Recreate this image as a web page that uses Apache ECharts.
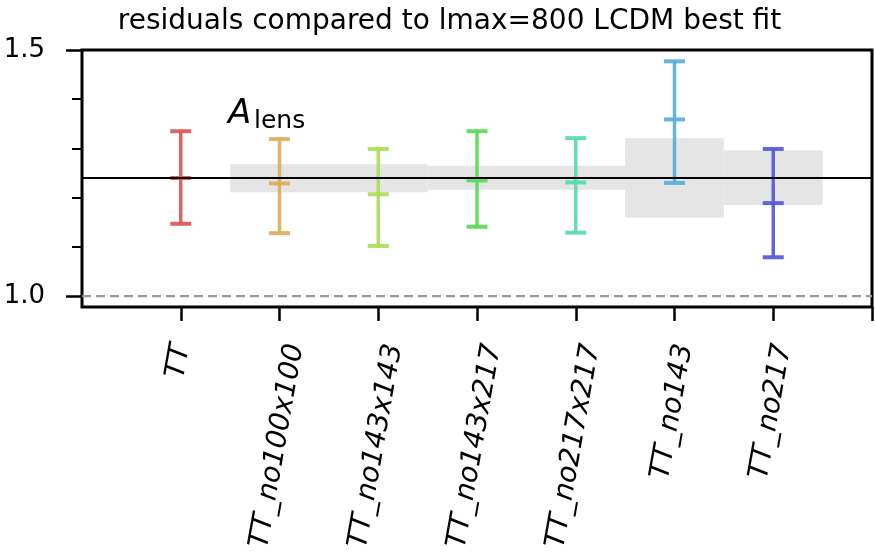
<!DOCTYPE html>
<html>
<head>
<meta charset="utf-8">
<script src="https://cdn.jsdelivr.net/npm/echarts@6/dist/echarts.min.js"></script>
<style>
  html, body { margin: 0; padding: 0; background: #fff; }
  #chart { width: 875px; height: 556px; }
</style>
</head>
<body>
<div id="chart"></div>
<script>
// Datasets compared against the full TT fit
const categories = ['TT', 'TT_no100x100', 'TT_no143x143', 'TT_no143x217', 'TT_no217x217', 'TT_no143', 'TT_no217'];

// A_lens constraints: lower bound, central value, upper bound
const alensLow    = [1.147, 1.128, 1.102, 1.141, 1.129, 1.230, 1.079];
const alensCenter = [1.240, 1.229, 1.207, 1.235, 1.231, 1.359, 1.189];
const alensHigh   = [1.335, 1.319, 1.299, 1.335, 1.321, 1.477, 1.299];

// Expected-shift bands (category span and A_lens range)
const bandFrom = [0.5, 2.5, 4.5, 5.5];
const bandTo   = [2.5, 4.5, 5.5, 6.5];
const bandLow  = [1.211, 1.216, 1.160, 1.185];
const bandHigh = [1.268, 1.265, 1.321, 1.296];

// Reference levels
const bestFit = 1.240;
const unity = 1.0;

// Axis ticks
const yMajorTicks = [1.0, 1.5];
const yMinorTicks = [1.1, 1.2, 1.3, 1.4];
const xTicks = [0, 1, 2, 3, 4, 5, 6, 7];

const palette = ['#db5757', '#dbaf57', '#afdb57', '#57db57', '#57dbaf', '#57afdb', '#5757db'];

const Y_MIN = 0.978, Y_MAX = 1.5, X_MIN = -1, X_MAX = 7;
const FONT = '"DejaVu Sans", Verdana, sans-serif';
const LABEL_SIZE = 28;

const measureCtx = document.createElement('canvas').getContext('2d');
measureCtx.font = 'italic ' + LABEL_SIZE + 'px ' + FONT;

const chart = echarts.init(document.getElementById('chart'), null, { renderer: 'canvas' });

const errData = categories.map((c, i) => [i, alensLow[i], alensCenter[i], alensHigh[i]]);
const bandData = bandFrom.map((f, i) => [f, bandLow[i], bandTo[i], bandHigh[i]]);
const labelData = categories.map((c, i) => [i, Y_MIN]);

const CAP = 10.5;

const option = {
  animation: false,
  backgroundColor: '#fff',
  grid: { left: 82, right: 3, top: 50, bottom: 249, show: true, borderColor: '#000', borderWidth: 3, backgroundColor: 'transparent' },
  xAxis: {
    type: 'value', min: X_MIN, max: X_MAX,
    axisLine: { show: false, onZero: false },
    splitLine: { show: false },
    axisLabel: { show: false },
    axisTick: { show: true, customValues: xTicks, length: 14, lineStyle: { color: '#000', width: 2.5 } }
  },
  yAxis: [
    {
      type: 'value', min: Y_MIN, max: Y_MAX, position: 'left',
      axisLine: { show: false, onZero: false },
      splitLine: { show: false },
      axisTick: { show: true, customValues: yMajorTicks, length: 16, lineStyle: { color: '#000', width: 2.5 } },
      axisLabel: { customValues: yMajorTicks, margin: 37, color: '#000', fontSize: 26, fontFamily: FONT, formatter: v => v.toFixed(1) }
    },
    {
      type: 'value', min: Y_MIN, max: Y_MAX, position: 'left',
      axisLine: { show: false, onZero: false },
      splitLine: { show: false },
      axisLabel: { show: false },
      axisTick: { show: true, customValues: yMinorTicks, length: 10, lineStyle: { color: '#000', width: 2 } }
    }
  ],
  graphic: [
    { type: 'text', x: 449.5, y: 22, style: { text: 'residuals compared to lmax=800 LCDM best fit', font: '28px ' + FONT, fill: '#000', align: 'center', verticalAlign: 'middle' } },
    { type: 'text', x: 228, y: 114, z: 50, style: { text: 'A', font: 'italic 34px ' + FONT, fill: '#000', align: 'left', verticalAlign: 'middle' } },
    { type: 'text', x: 254, y: 121, z: 50, style: { text: 'lens', font: '25px ' + FONT, fill: '#000', align: 'left', verticalAlign: 'middle' } }
  ],
  series: [
    {
      name: 'bands', type: 'custom', z: 1, silent: true,
      data: bandData,
      renderItem: (params, api) => {
        const p0 = api.coord([api.value(0), api.value(3)]);
        const p1 = api.coord([api.value(2), api.value(1)]);
        return { type: 'rect', shape: { x: p0[0], y: p0[1], width: p1[0] - p0[0], height: p1[1] - p0[1] }, style: { fill: '#e5e5e5' } };
      }
    },
    {
      name: 'unity', type: 'line', z: 2, silent: true, symbol: 'none',
      data: [[X_MIN, unity], [X_MAX, unity]],
      lineStyle: { color: '#999', width: 2.2, type: [9, 5] }
    },
    {
      name: 'A_lens', type: 'custom', z: 3, silent: true,
      data: errData,
      renderItem: (params, api) => {
        const i = params.dataIndex;
        const x = api.value(0);
        const lo = api.coord([x, api.value(1)]);
        const mid = api.coord([x, api.value(2)]);
        const hi = api.coord([x, api.value(3)]);
        const col = palette[i];
        const cap = p => ({ type: 'line', shape: { x1: p[0] - CAP, y1: p[1], x2: p[0] + CAP, y2: p[1] }, style: { stroke: col, lineWidth: 4, opacity: 0.92 } });
        return {
          type: 'group',
          children: [
            { type: 'line', shape: { x1: lo[0], y1: lo[1], x2: hi[0], y2: hi[1] }, style: { stroke: col, lineWidth: 3.5, opacity: 0.92 } },
            cap(lo), cap(mid), cap(hi)
          ]
        };
      }
    },
    {
      name: 'best fit', type: 'line', z: 4, silent: true, symbol: 'none',
      data: [[X_MIN, bestFit], [X_MAX, bestFit]],
      lineStyle: { color: '#000', width: 2 }
    },
    {
      name: 'labels', type: 'custom', z: 5, silent: true, clip: false,
      data: labelData,
      renderItem: (params, api) => {
        const name = categories[params.dataIndex];
        const p = api.coord([api.value(0), api.value(1)]);
        const w = measureCtx.measureText(name).width;
        const ang = 80 * Math.PI / 180;
        const h = LABEL_SIZE * 0.95;
        const extent = w * Math.sin(ang) + h * Math.cos(ang);
        return {
          type: 'text',
          x: p[0] - 2,
          y: p[1] + 35 + extent / 2,
          rotation: ang,
          style: { text: name, font: 'italic ' + LABEL_SIZE + 'px ' + FONT, fill: '#000', align: 'center', verticalAlign: 'middle' }
        };
      }
    }
  ]
};

chart.setOption(option);
</script>
</body>
</html>
